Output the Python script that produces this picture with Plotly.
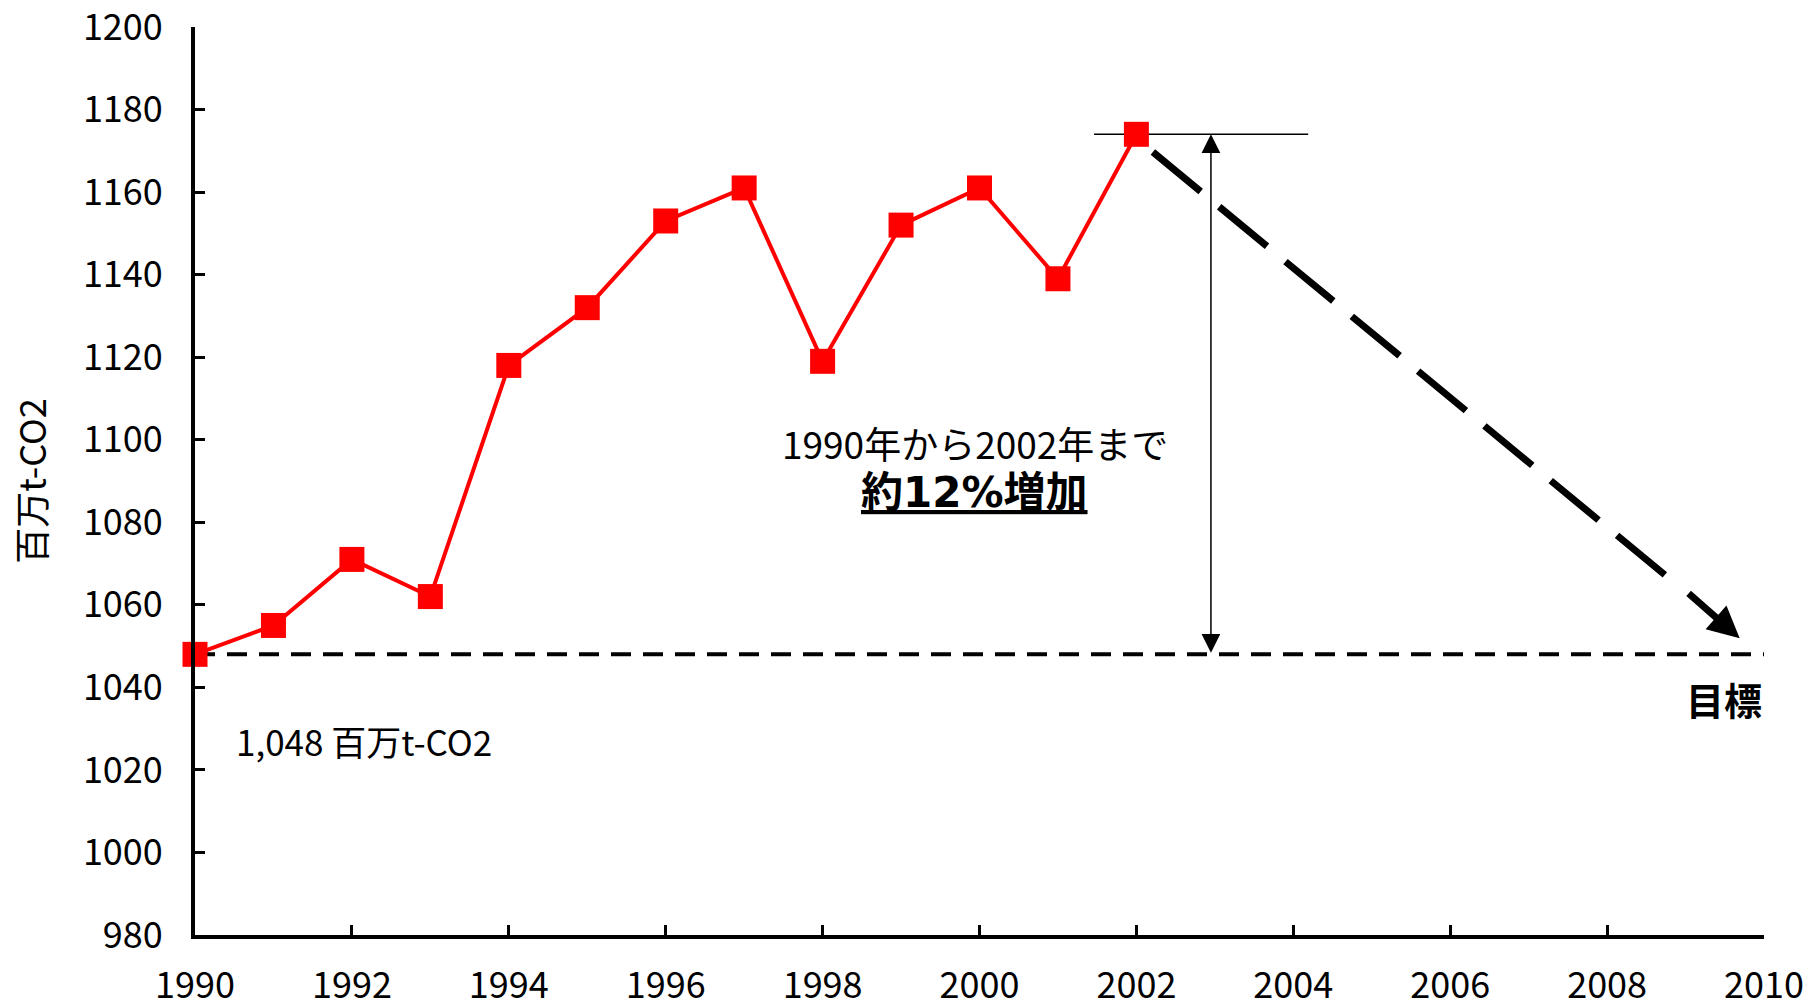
import plotly.graph_objects as go

years = list(range(1990, 2003))
emissions = [1048, 1055, 1071, 1062, 1118, 1132, 1153, 1161, 1119, 1152, 1161, 1139, 1174]

base_value = 1048
target_year_end = 2010
trend_x = [2002.21, 2008.74]
trend_y = [1169.7, 1067.2]
arrow_tail = (2009.02, 1063.1)
arrow_tip = (2009.69, 1051.9)
peak_line_x = [2001.46, 2004.19]
peak_value = 1174
arrow_year = 2002.95

y_ticks = [980, 1000, 1020, 1040, 1060, 1080, 1100, 1120, 1140, 1160, 1180, 1200]
x_ticks = [1990, 1992, 1994, 1996, 1998, 2000, 2002, 2004, 2006, 2008, 2010]

FONT = "Noto Sans CJK JP"
BOLD_FONT = "DejaVu Sans, Noto Sans CJK JP"

fig = go.Figure()

# baseline dashed
fig.add_trace(go.Scatter(x=[1990, target_year_end], y=[base_value, base_value], mode="lines",
                         line=dict(color="black", width=4, dash="20px,12px"),
                         hoverinfo="skip", showlegend=False, cliponaxis=False))
# peak thin line
fig.add_trace(go.Scatter(x=peak_line_x, y=[peak_value, peak_value], mode="lines",
                         line=dict(color="black", width=1.5),
                         hoverinfo="skip", showlegend=False))
# trend dashed arrow body
fig.add_trace(go.Scatter(x=trend_x, y=trend_y, mode="lines",
                         line=dict(color="black", width=7, dash="62px,24px"),
                         hoverinfo="skip", showlegend=False))
# data
fig.add_trace(go.Scatter(x=years, y=emissions, mode="lines+markers",
                         line=dict(color="#ff0000", width=4),
                         marker=dict(symbol="square", size=25, color="#ff0000"),
                         showlegend=False, cliponaxis=False))

annotations = [
    # trend arrowhead
    dict(x=arrow_tip[0], y=arrow_tip[1], ax=arrow_tail[0], ay=arrow_tail[1],
         xref="x", yref="y", axref="x", ayref="y", text="", showarrow=True,
         arrowhead=2, arrowsize=0.9, arrowwidth=7, arrowcolor="black", standoff=0),
    # vertical double arrow
    dict(x=arrow_year, y=peak_value, ax=arrow_year, ay=base_value,
         xref="x", yref="y", axref="x", ayref="y", text="", showarrow=True,
         arrowhead=2, startarrowhead=2, arrowside="end+start", arrowsize=2.5, startarrowsize=2.5,
         arrowwidth=1.5, arrowcolor="black", standoff=0, startstandoff=0),
    dict(x=1999.94, y=1099.2, xref="x", yref="y", text="1990年から2002年まで", showarrow=False,
         font=dict(family=FONT, size=37, color="black")),
    dict(x=1999.94, y=1087.3, xref="x", yref="y", text="<b><u>約12%増加</u></b>", showarrow=False,
         font=dict(family=BOLD_FONT, size=42, color="black")),
    dict(x=1990.50, y=1027.2, xref="x", yref="y", text="1,048 百万t-CO2", showarrow=False,
         xanchor="left", font=dict(family=FONT, size=35, color="black")),
    dict(x=2009.49, y=1037.2, xref="x", yref="y", text="<b>目標</b>", showarrow=False,
         font=dict(family=FONT, size=38, color="black")),
]

fig.update_layout(
    width=1810, height=1004,
    margin=dict(l=195, r=46, t=27, b=69),
    paper_bgcolor="white", plot_bgcolor="white",
    font=dict(family=FONT, color="black"),
    annotations=annotations,
    xaxis=dict(range=[1990, 2010], tickmode="array", tickvals=x_ticks, ticks="inside", ticklen=10,
               tickwidth=3, tickcolor="black", showline=True, linewidth=4, linecolor="black",
               showgrid=False, zeroline=False, tickfont=dict(family=FONT, size=36, color="black"),
               ticklabelstandoff=16, ticklabeloverflow="allow", automargin=False),
    yaxis=dict(range=[980, 1200], tickmode="array", tickvals=y_ticks, ticks="inside", ticklen=10,
               tickwidth=3, tickcolor="black", showline=True, linewidth=4, linecolor="black",
               showgrid=False, zeroline=False, tickfont=dict(family=FONT, size=36, color="black"),
               ticklabelstandoff=21, ticklabeloverflow="allow", automargin=False,
               title=dict(text="百万t-CO2", font=dict(family=FONT, size=36, color="black"), standoff=26)),
)

fig.write_html("out.html")
